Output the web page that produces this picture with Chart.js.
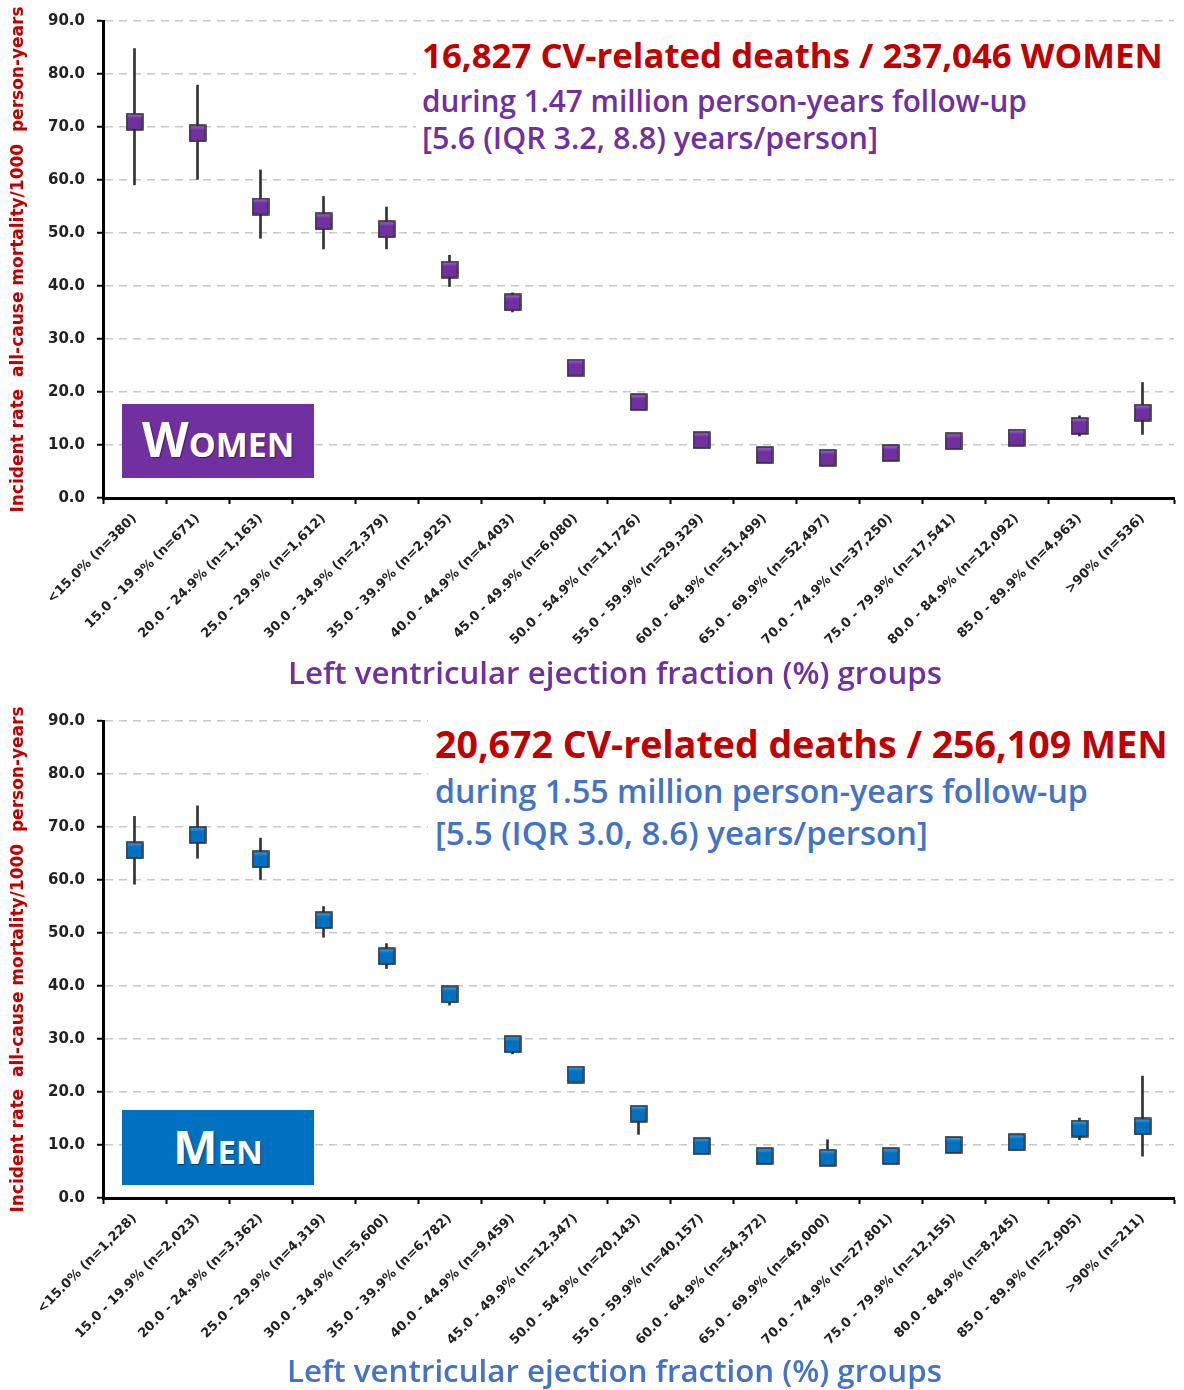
<!DOCTYPE html>
<html>
<head>
<meta charset="utf-8">
<title>Incident rate by LVEF group</title>
<script src="https://cdn.jsdelivr.net/npm/chart.js@4.4.1/dist/chart.umd.min.js"></script>
<style>
    body { margin: 0; background: #fff; width: 1184px; height: 1390px; overflow: hidden; }
    .panel { position: relative; width: 1184px; }
    .note { position: absolute; background: #fff; }
    .tag { position: absolute; left: 122px; width: 192px; }
    .fit {
        position: absolute; white-space: nowrap; line-height: 1;
        font-family: "Open Sans", Lato, sans-serif; font-size: 30px; font-weight: 600;
    }
    .headline { color: #C00000; font-weight: 700; }
    .tagText { color: #fff; font-weight: 700; font-variant: small-caps; text-shadow: 1px 1px 1px rgba(0, 0, 0, 0.45); }
</style>
</head>
<body>

<div class="panel" style="height:700px">
    <canvas id="womenChart"></canvas>
    <div class="note" style="left:416px;top:28px;width:768px;height:140px"></div>
    <div class="fit headline" style="left:422px" data-w="741" data-base="69">16,827 CV-related deaths / 237,046 WOMEN</div>
    <div class="fit" style="left:422px;color:#7030A0" data-w="605" data-base="112">during 1.47 million person-years follow-up</div>
    <div class="fit" style="left:422px;color:#7030A0" data-w="456" data-base="149">[5.6 (IQR 3.2, 8.8) years/person]</div>
    <div class="tag" style="top:404px;height:74px;background:#7030A0"></div>
    <div class="fit tagText" data-w="152" data-base="457" data-center="218">Women</div>
    <div class="fit" style="left:288px;color:#7030A0" data-w="654" data-base="685">Left ventricular ejection fraction (%) groups</div>
</div>

<div class="panel" style="height:690px">
    <canvas id="menChart"></canvas>
    <div class="note" style="left:428px;top:14px;width:756px;height:148px"></div>
    <div class="fit headline" style="left:435px" data-w="733" data-base="58">20,672 CV-related deaths / 256,109 MEN</div>
    <div class="fit" style="left:435px;color:#4472C4" data-w="653" data-base="104">during 1.55 million person-years follow-up</div>
    <div class="fit" style="left:435px;color:#4472C4" data-w="493" data-base="145">[5.5 (IQR 3.0, 8.6) years/person]</div>
    <div class="tag" style="top:410px;height:75px;background:#0070C0"></div>
    <div class="fit tagText" data-w="90" data-base="464" data-center="218">Men</div>
    <div class="fit" style="left:287px;color:#4472C4" data-w="655" data-base="682.7">Left ventricular ejection fraction (%) groups</div>
</div>

<script>
// 横軸のグループ (LVEF %) と人数
const womenGroups = ["<15.0% (n=380)", "15.0 - 19.9% (n=671)", "20.0 - 24.9% (n=1,163)", "25.0 - 29.9% (n=1,612)",
    "30.0 - 34.9% (n=2,379)", "35.0 - 39.9% (n=2,925)", "40.0 - 44.9% (n=4,403)", "45.0 - 49.9% (n=6,080)",
    "50.0 - 54.9% (n=11,726)", "55.0 - 59.9% (n=29,329)", "60.0 - 64.9% (n=51,499)", "65.0 - 69.9% (n=52,497)",
    "70.0 - 74.9% (n=37,250)", "75.0 - 79.9% (n=17,541)", "80.0 - 84.9% (n=12,092)", "85.0 - 89.9% (n=4,963)",
    ">90% (n=536)"];
const menGroups = ["<15.0% (n=1,228)", "15.0 - 19.9% (n=2,023)", "20.0 - 24.9% (n=3,362)", "25.0 - 29.9% (n=4,319)",
    "30.0 - 34.9% (n=5,600)", "35.0 - 39.9% (n=6,782)", "40.0 - 44.9% (n=9,459)", "45.0 - 49.9% (n=12,347)",
    "50.0 - 54.9% (n=20,143)", "55.0 - 59.9% (n=40,157)", "60.0 - 64.9% (n=54,372)", "65.0 - 69.9% (n=45,000)",
    "70.0 - 74.9% (n=27,801)", "75.0 - 79.9% (n=12,155)", "80.0 - 84.9% (n=8,245)", "85.0 - 89.9% (n=2,905)",
    ">90% (n=211)"];

// 発生率 /1000 person-years と 95%CI (下限・上限)
const womenRate = [71.0, 68.8, 55.0, 52.2, 50.7, 43.1, 36.9, 24.6, 18.1, 10.9, 8.1, 7.6, 8.5, 10.7, 11.4, 13.6, 16.1];
const womenLow  = [59.1, 60.1, 49.0, 47.0, 47.0, 39.9, 35.1, 23.6, 17.0, 10.0, 7.3, 6.8, 7.7, 9.8, 10.5, 11.7, 12.0];
const womenHigh = [84.8, 77.9, 61.9, 56.9, 54.9, 45.8, 38.7, 25.6, 19.3, 11.9, 9.0, 8.5, 9.4, 11.7, 12.4, 15.5, 21.8];

const menRate = [65.6, 68.5, 63.9, 52.4, 45.6, 38.4, 29.0, 23.3, 15.9, 9.8, 7.9, 7.6, 7.9, 10.0, 10.5, 13.1, 13.5];
const menLow  = [59.2, 64.1, 60.1, 49.2, 43.3, 36.4, 27.2, 22.4, 12.0, 8.9, 7.0, 6.8, 7.0, 9.1, 9.6, 11.0, 7.9];
const menHigh = [72.0, 74.0, 67.9, 55.0, 48.0, 39.5, 30.0, 24.2, 17.0, 10.7, 8.8, 11.0, 8.8, 10.9, 11.4, 15.1, 23.0];

// 縦軸の範囲
const yMin = 0;
const yMax = 90;
const yStep = 10;

const yTitle = "Incident rate  all-cause mortality/1000  person-years";

/**
 * テキストを指定の幅に合わせ、ベースラインの位置に置く
 */
function fitTexts() {
    document.querySelectorAll('.fit').forEach(el => {
        const target = parseFloat(el.dataset.w);
        const fs = parseFloat(getComputedStyle(el).fontSize);
        const w = el.getBoundingClientRect().width;
        const size = fs * target / w;
        el.style.fontSize = size + 'px';
        el.style.top = (parseFloat(el.dataset.base) - 0.888 * size) + 'px';
        if (el.dataset.center) {
            el.style.left = (parseFloat(el.dataset.center) - target / 2) + 'px';
        }
    });
}

/**
 * 四角いマーカーを小さなcanvasに描く (上側を少し明るく)
 */
function makeMarker(color, light) {
    const c = document.createElement('canvas');
    c.width = 18;
    c.height = 18;
    const g = c.getContext('2d');
    const grad = g.createLinearGradient(0, 1, 0, 17);
    grad.addColorStop(0, light);
    grad.addColorStop(0.3, color);
    grad.addColorStop(1, color);
    g.fillStyle = grad;
    g.fillRect(1, 1, 16, 16);
    g.strokeStyle = '#2a2a2a';
    g.lineWidth = 1.5;
    g.strokeRect(1, 1, 16, 16);
    return c;
}

/**
 * 1枚分のグラフを作る
 */
function makeChart(id, groups, rate, low, high, marker, xHeight) {
    const ctx = document.getElementById(id);
    return new Chart(ctx, {
        type: 'bar',
        data: {
            labels: groups,
            datasets: [{
                type: 'line',
                data: rate,
                showLine: false,
                pointStyle: marker,
                pointRadius: 9,
                order: 0
            }, {
                type: 'bar',
                data: low.map((v, i) => [v, high[i]]),
                backgroundColor: '#333',
                borderWidth: 0,
                barThickness: 2,
                order: 1
            }]
        },
        options: {
            responsive: true,
            maintainAspectRatio: false,
            animation: false,
            layout: { padding: { top: 16, right: 0, bottom: 0, left: 0 } },
            plugins: {
                legend: { display: false },
                tooltip: { enabled: false }
            },
            scales: {
                x: {
                    offset: true,
                    grid: { drawOnChartArea: false, offset: true, tickLength: 6, tickColor: '#000', tickWidth: 2 },
                    border: { color: '#000', width: 3 },
                    ticks: {
                        autoSkip: false, minRotation: 45, maxRotation: 45, padding: 7,
                        color: '#222', font: { family: 'DejaVu Sans', weight: 'bold', size: 13 }
                    },
                    afterFit: scale => { scale.height = xHeight; }
                },
                y: {
                    min: yMin,
                    max: yMax,
                    ticks: {
                        stepSize: yStep, padding: 12, color: '#222',
                        font: { family: 'DejaVu Sans', weight: 'bold', size: 15 },
                        callback: v => v.toFixed(1)
                    },
                    grid: { color: '#c8c8c8', lineWidth: 1.5, tickColor: '#000', tickWidth: 2, tickLength: 6, tickBorderDash: [] },
                    border: { color: '#000', width: 3, dash: [8, 6] },
                    title: {
                        display: true, text: yTitle, color: '#C00000',
                        font: { family: 'DejaVu Sans', weight: 'bold', size: 17 }, padding: { top: 8, bottom: 0 }
                    },
                    afterFit: scale => { scale.width = 103; }
                }
            }
        }
    });
}

fitTexts();

var womenChart = makeChart('womenChart', womenGroups, womenRate, womenLow, womenHigh,
    makeMarker('#7030A0', '#a36ad0'), 202);
var menChart = makeChart('menChart', menGroups, menRate, menLow, menHigh,
    makeMarker('#0070C0', '#4aa0e0'), 192);
</script>
</body>
</html>
